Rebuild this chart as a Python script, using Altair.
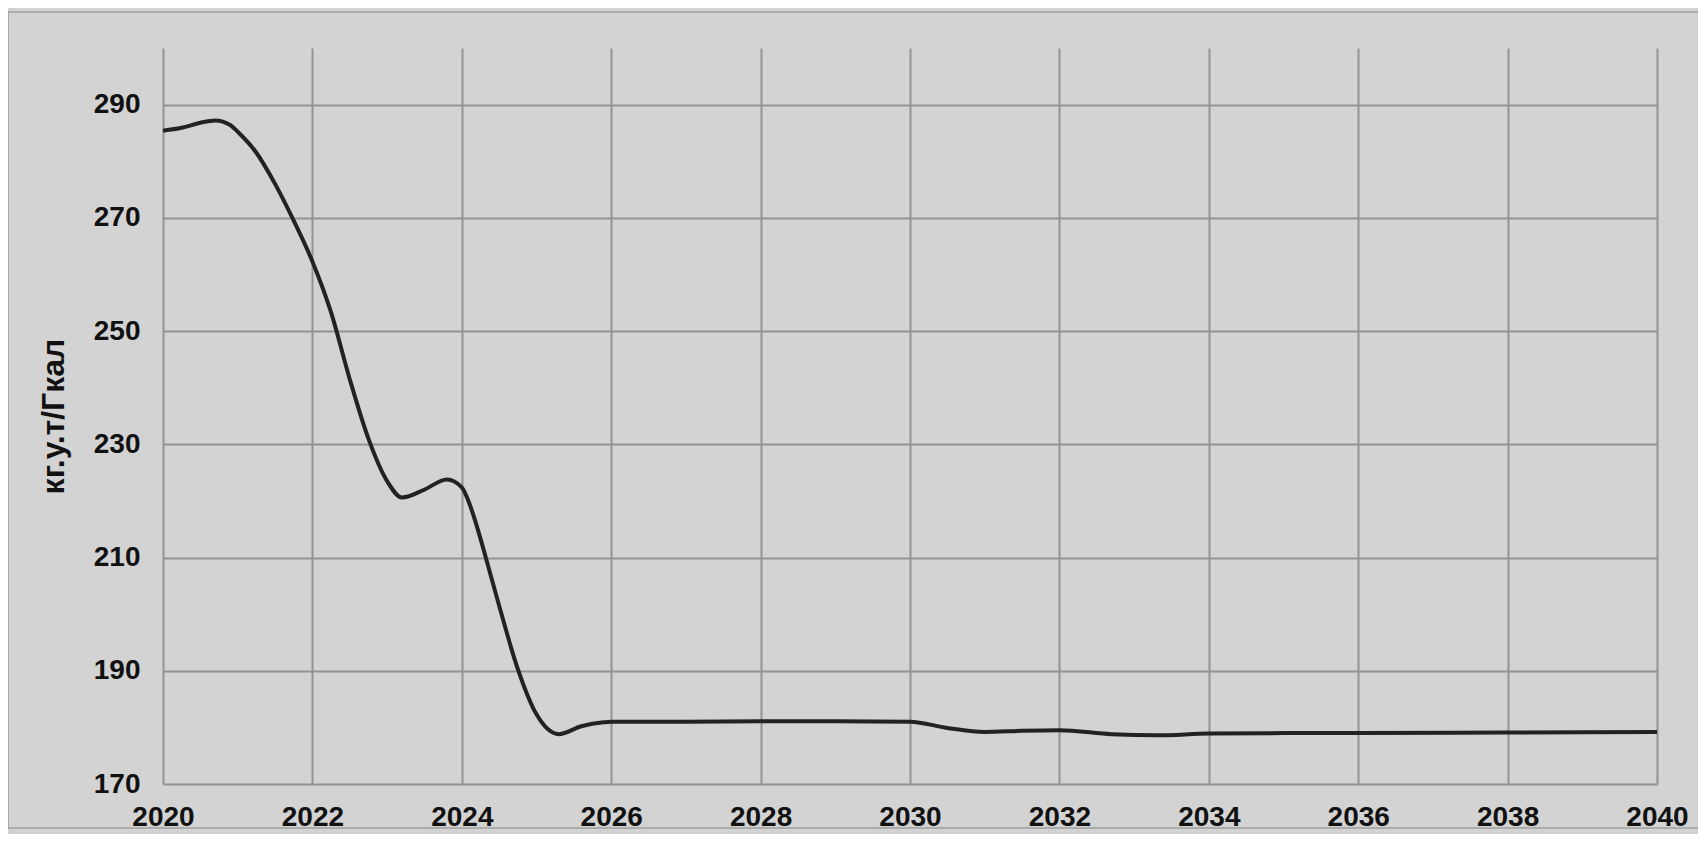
import altair as alt
import pandas as pd

# values
years = [2020.0, 2020.25, 2020.5, 2020.7, 2020.9, 2021.0, 2021.25, 2021.5, 2021.75,
         2022.0, 2022.25, 2022.5, 2022.75, 2023.0, 2023.2, 2023.5, 2023.8, 2024.0,
         2024.1, 2024.2, 2024.3, 2024.5, 2024.75, 2025.0, 2025.3, 2025.6, 2025.9,
         2026.0, 2027.0, 2028.0, 2029.0, 2030.0, 2030.5, 2031.0, 2031.5, 2032.0,
         2032.7, 2033.3, 2034.0, 2035.0, 2036.0, 2038.0, 2040.0]
values = [285.4, 285.9, 286.8, 287.2, 286.4, 285.2, 281.5, 276.0, 269.5,
          262.3, 253.3, 241.5, 231.0, 223.5, 220.6, 222.0, 223.8, 222.4,
          219.6, 215.6, 211.0, 201.5, 190.3, 182.3, 178.8, 180.2, 180.9,
          181.0, 181.0, 181.1, 181.1, 181.0, 179.9, 179.2, 179.4, 179.5,
          178.8, 178.6, 178.9, 179.0, 179.0, 179.1, 179.2]

x_ticks = list(range(2020, 2041, 2))
y_ticks = [170, 190, 210, 230, 250, 270, 290]
y_title = "кг.у.т/Гкал"

df = pd.DataFrame({"year": years, "value": values})

FONT = "Liberation Sans"
GRID = "#939393"
TEXT = "#111111"

line = alt.Chart(df).mark_line(
    color="#222222", strokeWidth=4, interpolate="monotone"
).encode(
    x=alt.X(
        "year:Q",
        scale=alt.Scale(domain=[2020, 2040], nice=False, zero=False),
        axis=alt.Axis(
            values=x_ticks, format="d", title=None, grid=True, ticks=False,
            domain=False, labelFont=FONT, labelFontSize=28, labelFontWeight="bold",
            labelColor=TEXT, labelPadding=19, gridColor=GRID, gridWidth=2,
            labelFlush=False, labelOverlap=False,
        ),
    ),
    y=alt.Y(
        "value:Q",
        scale=alt.Scale(domain=[170, 300], nice=False, zero=False),
        axis=alt.Axis(
            values=y_ticks, title=y_title, grid=True, ticks=False, domain=False,
            labelFont=FONT, labelFontSize=28, labelFontWeight="bold",
            labelColor=TEXT, labelPadding=23, gridColor=GRID, gridWidth=2,
            labelOverlap=False, titleFont=FONT, titleFontSize=32,
            titleFontWeight="bold", titleColor=TEXT, titleAngle=270,
            titleX=-110, titleY=368, titleAlign="center", titleBaseline="middle",
        ),
    ),
)

frame = alt.Chart(pd.DataFrame({"a": [0]})).mark_rect(
    fillOpacity=0, stroke="#a0a0a0", strokeWidth=1.5
).encode(
    x=alt.value(-155), x2=alt.value(1560), y=alt.value(-36), y2=alt.value(780)
)

chart = alt.layer(frame, line).properties(
    width=1494,
    height=736,
    autosize=alt.AutoSizeParams(type="none"),
    padding={"left": 155, "top": 40, "right": 41, "bottom": 50},
    background="#d3d3d3",
).configure_view(stroke=None)

chart.save("out.html", embed_options={"renderer": "svg", "actions": False})
